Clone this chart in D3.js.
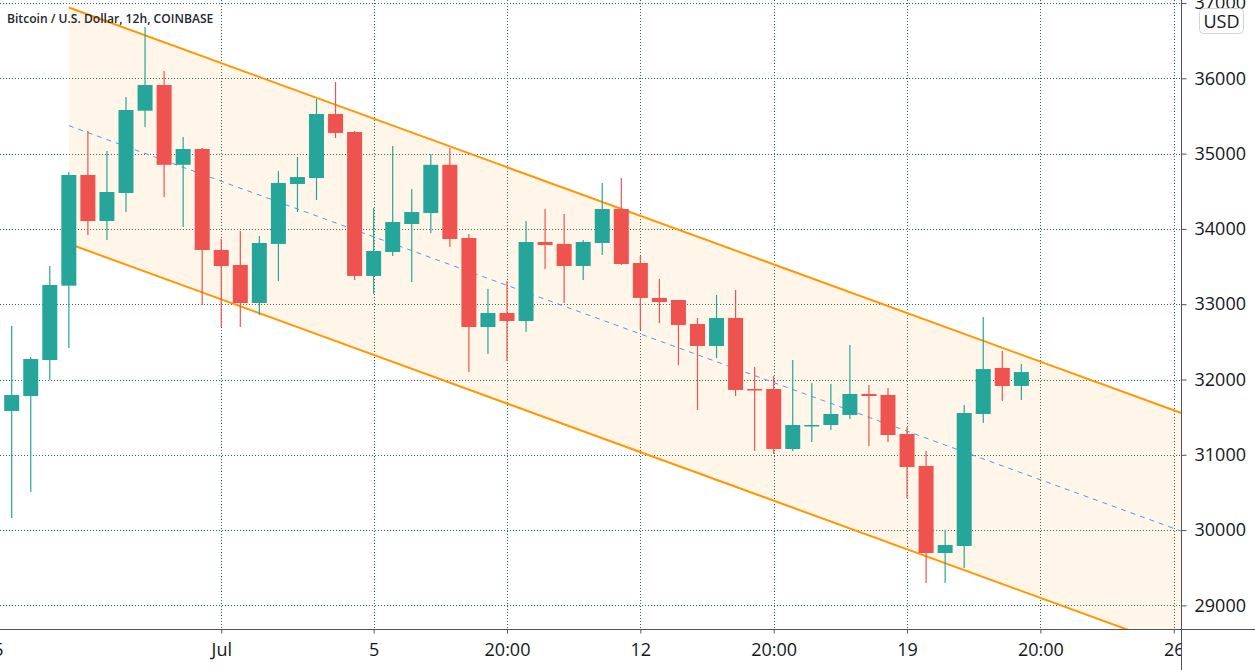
<!DOCTYPE html>
<html>
<head>
<meta charset="utf-8">
<script src="https://cdn.jsdelivr.net/npm/d3@7"></script>
<style>
  html, body { margin: 0; padding: 0; background: #ffffff; }
  svg { display: block; }
</style>
</head>
<body>
<svg id="chart" width="1255" height="670"></svg>
<script>
// ---------------- DATA ----------------
const titleText = "Bitcoin / U.S. Dollar, 12h, COINBASE";
const firstCandle = "2021-06-25T20:00:00Z";   // 12h candles
const open  = [31582,31781,32259,33246,34716,34105,34477,35570,35911,34851,35061,33720,33521,33016,33800,34596,34676,35526,35287,33375,33693,34065,34211,34851,33879,32697,32883,32777,33826,33800,33507,33813,34264,33547,33083,33056,32737,32445,32817,31874,31874,31077,31383,31396,31529,31808,31794,31276,30852,29696,29789,31542,32153,31914];
const high  = [32711,32298,33507,34756,35300,35035,35752,36681,36097,35221,35074,33866,33972,33906,34769,34955,35725,35951,35300,34278,35101,34530,34995,35074,33932,33202,33308,34105,34264,34198,33853,34610,34676,33640,33335,33056,32817,33122,33189,32166,32046,32259,31953,31940,32458,31927,31887,31369,31051,30001,31661,32830,32378,32206];
const low   = [30161,30506,31993,32418,33919,33853,34224,35353,34424,34025,32990,32697,32697,32857,33308,34224,34384,35207,33322,33136,33640,33295,33946,33760,32099,32338,32245,32631,33468,33016,33322,33653,33521,32657,32750,32192,31595,32285,31781,31051,31011,31051,31170,31330,31476,31117,31170,30427,29298,29298,29497,31423,31715,31728];
const close = [31794,32272,33255,34716,34105,34490,35579,35911,34851,35061,33720,33507,33016,33813,34610,34689,35526,35274,33375,33707,34092,34224,34851,33866,32697,32883,32777,33826,33786,33507,33826,34264,33534,33083,33029,32724,32445,32817,31861,31861,31077,31396,31396,31542,31808,31781,31263,30838,29696,29802,31555,32139,31914,32099];

const priceTicks = [29000,30000,31000,32000,33000,34000,35000,36000,37000];
const timeTickDates  = ["2021-06-25T08:00:00Z","2021-07-01T08:00:00Z","2021-07-05T08:00:00Z","2021-07-08T20:00:00Z","2021-07-12T08:00:00Z","2021-07-15T20:00:00Z","2021-07-19T08:00:00Z","2021-07-22T20:00:00Z","2021-07-26T08:00:00Z"];
const timeTickLabels = ["25","Jul","5","20:00","12","20:00","19","20:00","26"];

// parallel channel drawing (time, price)
const channelTimes = ["2021-06-27T08:00:00Z","2021-07-26T20:00:00Z"];
const channelUpper = [36940, 31500];
const channelLower = [33802, 28362];
const currency = "USD";

// ---------------- LAYOUT ----------------
const W = 1255, H = 670;
const paneRight = 1181, paneBottom = 629;
const UP = "#26a69a", DOWN = "#ef5350";
const GRID = "#2a6464", AXIS = "#50535e", TEXT = "#131722";
const FONT = "'Open Sans', 'Noto Sans', sans-serif";

const svg = d3.select("#chart");
const t0 = new Date(firstCandle);
const candleTime = i => d3.utcHour.offset(t0, 12 * i);
const candles = open.map((o, i) => ({ t: candleTime(i), o, h: high[i], l: low[i], c: close[i] }));

const x = d3.scaleUtc()
  .domain([candleTime(0), candleTime(61)])
  .range([11.7, 1173.75]);
const y = d3.scaleLinear()
  .domain([29000, 36000])
  .range([605.4, 78.3]);
const bodyW = 15;

svg.append("defs").append("clipPath").attr("id", "pane")
  .append("rect").attr("x", 0).attr("y", 0).attr("width", paneRight).attr("height", paneBottom);
svg.append("defs").append("clipPath").attr("id", "timeAxisClip")
  .append("rect").attr("x", 0).attr("y", paneBottom).attr("width", paneRight).attr("height", H - paneBottom);

const pane = svg.append("g").attr("clip-path", "url(#pane)");

// grid
pane.append("g").selectAll("line.h").data(priceTicks).join("line")
  .attr("x1", 0).attr("x2", paneRight)
  .attr("y1", d => Math.round(y(d)) + 0.5).attr("y2", d => Math.round(y(d)) + 0.5)
  .attr("stroke", GRID).attr("stroke-width", 1).attr("stroke-dasharray", "1,2");
pane.append("g").selectAll("line.v").data(timeTickDates).join("line")
  .attr("x1", d => Math.round(x(new Date(d))) + 0.5).attr("x2", d => Math.round(x(new Date(d))) + 0.5)
  .attr("y1", 0).attr("y2", paneBottom)
  .attr("stroke", GRID).attr("stroke-width", 1).attr("stroke-dasharray", "1,2");

// channel
const cT = channelTimes.map(d => new Date(d));
const up = [[x(cT[0]), y(channelUpper[0])], [x(cT[1]), y(channelUpper[1])]];
const lo = [[x(cT[0]), y(channelLower[0])], [x(cT[1]), y(channelLower[1])]];
const mid = [[x(cT[0]), (up[0][1] + lo[0][1]) / 2], [x(cT[1]), (up[1][1] + lo[1][1]) / 2]];
pane.append("path")
  .attr("d", d3.line()([up[0], up[1], lo[1], lo[0]]) + "Z")
  .attr("fill", "#ff9800").attr("fill-opacity", 0.085);
pane.append("path").attr("d", d3.line()(mid))
  .attr("stroke", "#42a0f0").attr("stroke-width", 1).attr("stroke-dasharray", "5,5").attr("fill", "none");
[up, lo].forEach(p => pane.append("path").attr("d", d3.line()(p))
  .attr("stroke", "#ff9800").attr("stroke-width", 2).attr("fill", "none"));

// candles
const cg = pane.append("g");
cg.selectAll("line.wick").data(candles).join("line")
  .attr("x1", d => x(d.t)).attr("x2", d => x(d.t))
  .attr("y1", d => y(d.h)).attr("y2", d => y(d.l))
  .attr("stroke", d => d.c >= d.o ? UP : DOWN).attr("stroke-width", 1.2);
cg.selectAll("rect.body").data(candles).join("rect")
  .attr("x", d => x(d.t) - bodyW / 2)
  .attr("width", bodyW)
  .attr("y", d => y(Math.max(d.o, d.c)))
  .attr("height", d => Math.max(1.5, Math.abs(y(d.o) - y(d.c))))
  .attr("fill", d => d.c >= d.o ? UP : DOWN);

// title
svg.append("text").attr("x", 7).attr("y", 22.5)
  .attr("font-family", FONT).attr("font-weight", 600).attr("font-size", 12.1)
  .attr("fill", "#222630").text(titleText);

// axes borders
svg.append("line").attr("x1", 0).attr("x2", W).attr("y1", paneBottom + 0.5).attr("y2", paneBottom + 0.5)
  .attr("stroke", AXIS).attr("stroke-width", 1);
svg.append("line").attr("x1", paneRight + 0.5).attr("x2", paneRight + 0.5).attr("y1", 0).attr("y2", H)
  .attr("stroke", AXIS).attr("stroke-width", 1);

// price axis
const yAxis = d3.axisRight(y).tickValues(priceTicks).tickSize(5).tickPadding(8).tickFormat(d3.format("d"));
const gy = svg.append("g").attr("transform", `translate(${paneRight + 0.5},0)`).call(yAxis);
gy.select(".domain").remove();
gy.selectAll(".tick line").attr("stroke", AXIS);
gy.selectAll(".tick text").attr("font-family", FONT).attr("font-size", 18).attr("fill", TEXT).attr("x", 13);

// time axis
const xAxis = d3.axisBottom(x).tickValues(timeTickDates.map(d => new Date(d)))
  .tickSize(4).tickPadding(10).tickFormat((d, i) => timeTickLabels[i]);
const gx = svg.append("g").attr("clip-path", "url(#timeAxisClip)")
  .append("g").attr("transform", `translate(0,${paneBottom + 0.5})`).call(xAxis);
gx.select(".domain").remove();
gx.selectAll(".tick line").attr("stroke", AXIS);
gx.selectAll(".tick text").attr("font-family", FONT).attr("font-size", 18).attr("fill", TEXT);

// currency badge
svg.append("rect").attr("x", 1199.5).attr("y", 8.5).attr("width", 44).attr("height", 25).attr("rx", 4)
  .attr("fill", "#ffffff").attr("stroke", "#d1d4dc");
svg.append("text").attr("x", 1221.5).attr("y", 27.5).attr("text-anchor", "middle")
  .attr("font-family", FONT).attr("font-size", 18).attr("fill", TEXT).text(currency);
</script>
</body>
</html>
